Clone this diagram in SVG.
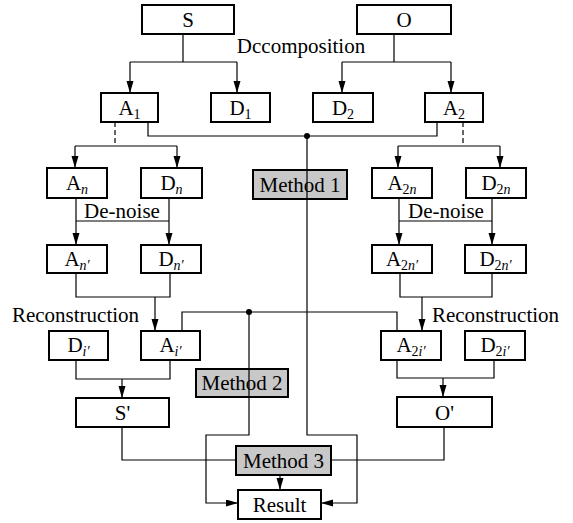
<svg xmlns="http://www.w3.org/2000/svg" width="573" height="523" viewBox="0 0 573 523" font-family="'Liberation Serif', 'Times New Roman', 'DejaVu Serif', serif">
<style>
.box{fill:#fff;stroke:#000;stroke-width:2}
.mbox{fill:#c8c8c8;stroke:#000;stroke-width:2}
text{font-family:'Liberation Serif','Times New Roman','DejaVu Serif',serif;font-size:21px;fill:#000;text-anchor:middle}
.sub{font-size:14px}
.it{font-style:italic}
.ln{fill:none;stroke:#000;stroke-width:1.2}
.ar{fill:none;stroke:#000;stroke-width:1.2;marker-end:url(#ah)}
.dash{fill:none;stroke:#000;stroke-width:1.2;stroke-dasharray:5,3}
</style>
<defs>
<marker id="ah" markerUnits="userSpaceOnUse" markerWidth="12" markerHeight="8" refX="12" refY="3.5" orient="auto">
<path d="M0,0 L12,3.5 L0,7 z" fill="#000"/>
</marker>
</defs>
<rect width="573" height="523" fill="#fff"/>
<g id="nodes">
<g id="S"><rect class="box" x="142" y="5" width="92" height="29"/><text x="188" y="27">S</text></g>
<g id="O"><rect class="box" x="357" y="5" width="94" height="29"/><text x="404" y="27">O</text></g>
<g id="A1"><rect class="box" x="101" y="93" width="57" height="29"/><text x="129.5" y="115">A<tspan class="sub" dy="4">1</tspan></text></g>
<g id="D1"><rect class="box" x="211" y="93" width="59" height="29"/><text x="240.5" y="115">D<tspan class="sub" dy="4">1</tspan></text></g>
<g id="D2"><rect class="box" x="313" y="93" width="60" height="29"/><text x="343" y="115">D<tspan class="sub" dy="4">2</tspan></text></g>
<g id="A2"><rect class="box" x="425" y="93" width="58" height="29"/><text x="454" y="115">A<tspan class="sub" dy="4">2</tspan></text></g>
<g id="An"><rect class="box" x="47" y="168" width="60" height="30"/><text x="77" y="190">A<tspan class="sub it" dy="4">n</tspan></text></g>
<g id="Dn"><rect class="box" x="141" y="168" width="61" height="30"/><text x="171.5" y="190">D<tspan class="sub it" dy="4">n</tspan></text></g>
<g id="Method1"><rect class="mbox" x="253" y="170" width="94" height="29"/><text x="300" y="192">Method 1</text></g>
<g id="A2n"><rect class="box" x="372" y="168" width="60" height="30"/><text x="402" y="190">A<tspan class="sub" dy="4">2</tspan><tspan class="sub it">n</tspan></text></g>
<g id="D2n"><rect class="box" x="466" y="168" width="60" height="30"/><text x="496" y="190">D<tspan class="sub" dy="4">2</tspan><tspan class="sub it">n</tspan></text></g>
<g id="Anp"><rect class="box" x="47" y="245" width="60" height="28"/><text x="77" y="266">A<tspan class="sub it" dy="4">n′</tspan></text></g>
<g id="Dnp"><rect class="box" x="141" y="245" width="60" height="28"/><text x="171" y="266">D<tspan class="sub it" dy="4">n′</tspan></text></g>
<g id="A2np"><rect class="box" x="372" y="245" width="60" height="28"/><text x="402" y="266">A<tspan class="sub" dy="4">2</tspan><tspan class="sub it">n′</tspan></text></g>
<g id="D2np"><rect class="box" x="465" y="245" width="61" height="28"/><text x="495.5" y="266">D<tspan class="sub" dy="4">2</tspan><tspan class="sub it">n′</tspan></text></g>
<g id="Dip"><rect class="box" x="49" y="331" width="59" height="29"/><text x="78.5" y="352">D<tspan class="sub it" dy="4">i′</tspan></text></g>
<g id="Aip"><rect class="box" x="141" y="331" width="59" height="29"/><text x="170.5" y="352">A<tspan class="sub it" dy="4">i′</tspan></text></g>
<g id="A2ip"><rect class="box" x="381" y="331" width="60" height="29"/><text x="411" y="352">A<tspan class="sub" dy="4">2</tspan><tspan class="sub it">i′</tspan></text></g>
<g id="D2ip"><rect class="box" x="465" y="331" width="60" height="29"/><text x="495" y="352">D<tspan class="sub" dy="4">2</tspan><tspan class="sub it">i′</tspan></text></g>
<g id="Method2"><rect class="mbox" x="196" y="369" width="92" height="28"/><text x="242" y="390">Method 2</text></g>
<g id="Sp"><rect class="box" x="76" y="398" width="93" height="29"/><text x="122.5" y="420">S'</text></g>
<g id="Op"><rect class="box" x="397" y="397" width="95" height="30"/><text x="444.5" y="420">O'</text></g>
<g id="Method3"><rect class="mbox" x="236" y="446" width="95" height="29"/><text x="283.5" y="468">Method 3</text></g>
<g id="Result"><rect class="box" x="238" y="490" width="83" height="29"/><text x="279.5" y="512">Result</text></g>
</g>
<g id="labels">
<text x="301" y="53">Dccomposition</text>
<text x="122" y="218">De-noise</text>
<text x="446" y="218">De-noise</text>
<text x="75.5" y="322">Reconstruction</text>
<text x="495.5" y="322">Reconstruction</text>
</g>
<g id="connectors">
<path class="ln" d="M183,34 V62 M130,62 H237"/>
<path class="ar" d="M130,62 V93"/>
<path class="ar" d="M237,62 V93"/>
<path class="ln" d="M394,34 V62 M342,62 H451"/>
<path class="ar" d="M342,62 V93"/>
<path class="ar" d="M451,62 V93"/>
<path class="ln" d="M148,122 V136 H437 V122"/>
<circle cx="307" cy="136" r="3" fill="#000"/>
<path class="dash" d="M115,122 V146"/>
<path class="dash" d="M463,122 V146"/>
<path class="ln" d="M75,146 H177"/>
<path class="ar" d="M75,146 V168"/>
<path class="ar" d="M177,146 V168"/>
<path class="ln" d="M398,146 H500"/>
<path class="ar" d="M398,146 V168"/>
<path class="ar" d="M500,146 V168"/>
<path class="ar" d="M76,198 V245"/>
<path class="ar" d="M169,198 V245"/>
<path class="ln" d="M76,221 H169"/>
<path class="ar" d="M399,198 V245"/>
<path class="ar" d="M492,198 V245"/>
<path class="ln" d="M399,221 H492"/>
<path class="ln" d="M76,273 V297 H170 V273"/>
<path class="ar" d="M155,297 V331"/>
<path class="ln" d="M400,273 V297 H492 V273"/>
<path class="ar" d="M422,297 V331"/>
<path class="ln" d="M182,331 V312 H397 V331"/>
<circle cx="249" cy="312" r="3" fill="#000"/>
<path class="ar" d="M249,312 V435 H206 V503 H238"/>
<path class="ar" d="M307,136 V435 H357 V503 H321"/>
<path class="ln" d="M76,360 V379 H170 V360"/>
<path class="ar" d="M122,379 V398"/>
<path class="ln" d="M397,360 V378 H494 V360"/>
<path class="ar" d="M443,378 V397"/>
<path class="ln" d="M122,427 V460 H236"/>
<path class="ln" d="M444,427 V460 H331"/>
<path class="ar" d="M280,475 V490"/>
</g>
</svg>
